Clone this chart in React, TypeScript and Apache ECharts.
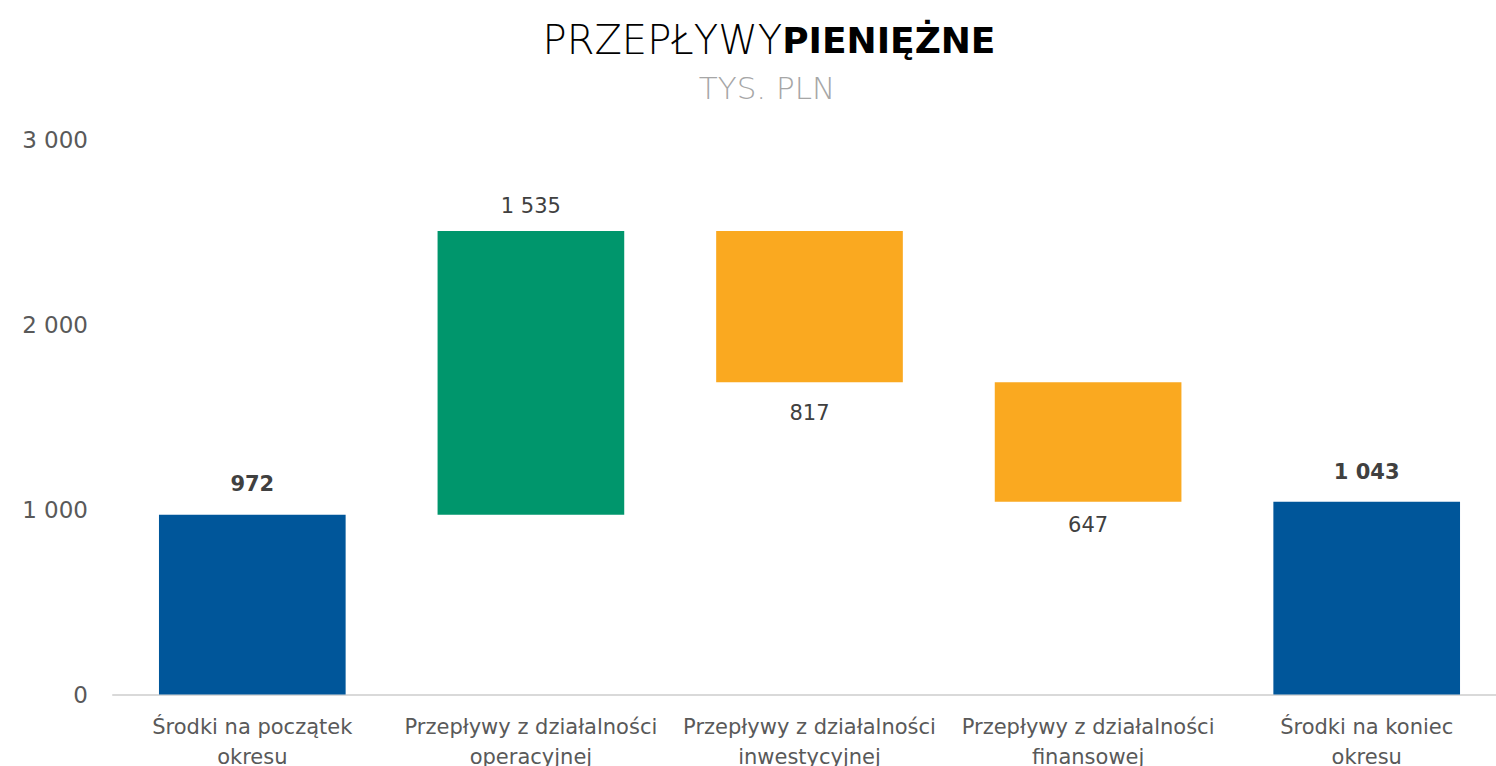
import React, { useEffect, useRef } from "react";
import * as echarts from "echarts";

const categories = [
  "Środki na początek okresu",
  "Przepływy z działalności operacyjnej",
  "Przepływy z działalności inwestycyjnej",
  "Przepływy z działalności finansowej",
  "Środki na koniec okresu",
];
const baseValues = [0, 972, 1690, 1043, 0];
const deltaValues = [972, 1535, 817, 647, 1043];
const barColors = ["#00569A", "#00966C", "#FAA920", "#FAA920", "#00569A"];
const labelPositions = ["top", "top", "bottom", "bottom", "top"];
const labelDistances = [20, 15, 20, 13, 19];
const labelBold = [true, false, false, false, true];
const yTicks = { min: 0, max: 3000, interval: 1000 };

const FONT = "'DejaVu Sans', sans-serif";

const fmt = (v: number) =>
  String(Math.round(v)).replace(/\B(?=(\d{3})+(?!\d))/g, " ");

export default function App() {
  const ref = useRef<HTMLDivElement>(null);
  useEffect(() => {
    if (!ref.current) return;
    const chart = echarts.init(ref.current, undefined, { renderer: "svg" });
    chart.setOption({
      animation: false,
      backgroundColor: "#ffffff",
      graphic: [
        {
          type: "text",
          x: 769,
          y: 40,
          style: {
            text: "{a|PRZEPŁYWY}{b|PIENIĘŻNE}",
            align: "center",
            verticalAlign: "middle",
            rich: {
              a: { fontFamily: FONT, fontSize: 40, fontWeight: 200, fill: "#000000" },
              b: { fontFamily: FONT, fontSize: 36, fontWeight: 700, fill: "#000000" },
            },
          },
        },
        {
          type: "text",
          x: 767,
          y: 88,
          style: {
            text: "TYS. PLN",
            align: "center",
            verticalAlign: "middle",
            fontFamily: FONT,
            fontSize: 31,
            fontWeight: 200,
            fill: "#A6A6A6",
          },
        },
      ],
      grid: {
        left: 113,
        right: 0,
        top: 140,
        bottom: 71.5,
        containLabel: false,
        outerBoundsMode: "none",
      },
      xAxis: {
        type: "category",
        data: categories,
        axisLine: { lineStyle: { color: "#D9D9D9", width: 2 } },
        axisTick: { show: false },
        axisLabel: {
          interval: 0,
          margin: 17,
          color: "#595959",
          fontFamily: FONT,
          fontSize: 21,
          lineHeight: 30,
          formatter: (v: string) => {
            const i = v.lastIndexOf(" ");
            return v.slice(0, i) + "\n" + v.slice(i + 1);
          },
        },
      },
      yAxis: {
        type: "value",
        min: yTicks.min,
        max: yTicks.max,
        interval: yTicks.interval,
        splitLine: { show: false },
        axisLine: { show: false },
        axisTick: { show: false },
        axisLabel: {
          margin: 25,
          color: "#595959",
          fontFamily: FONT,
          fontSize: 23,
          formatter: (v: number) => fmt(v),
        },
      },
      series: [
        {
          type: "bar",
          stack: "w",
          silent: true,
          itemStyle: { color: "transparent" },
          data: baseValues,
          barWidth: "67%",
        },
        {
          type: "bar",
          stack: "w",
          barWidth: "67%",
          data: deltaValues.map((v, i) => ({
            value: v,
            itemStyle: { color: barColors[i] },
            label: {
              show: true,
              position: labelPositions[i],
              distance: labelDistances[i],
              formatter: () => fmt(v),
              color: "#404040",
              fontFamily: FONT,
              fontSize: 21,
              fontWeight: labelBold[i] ? 700 : 400,
            },
          })),
        },
      ],
    });
    return () => chart.dispose();
  }, []);
  return (
    <div style={{ position: "fixed", left: 0, top: 0, width: 1496, height: 766, overflow: "hidden", background: "#fff" }}>
      <div ref={ref} style={{ width: 1506, height: 766 }} />
    </div>
  );
}
